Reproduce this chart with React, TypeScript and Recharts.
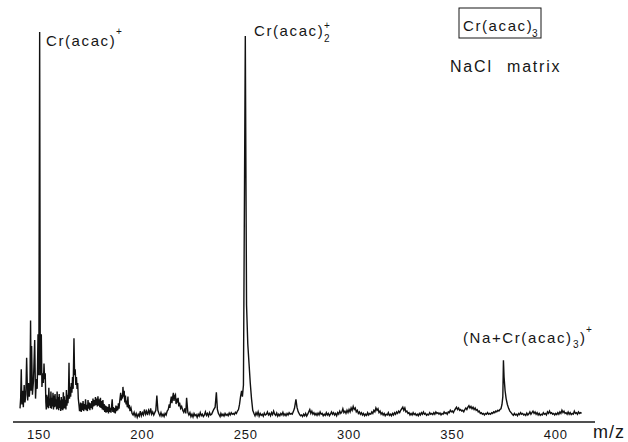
import { LineChart, Line, XAxis, YAxis } from 'recharts';

// m/z vs relative intensity (tallest peak = 100)
const lowMass: [number, number][] = [
  [140.8, 3.5], [141.1, 6.0], [141.4, 13.5], [141.7, 4.5], [142.0, 8.0], [142.4, 3.8], [142.8, 9.5],
  [143.2, 5.0], [143.6, 7.0], [144.0, 16.5], [144.5, 5.5], [144.9, 10.0], [145.3, 6.5], [145.6, 9.0],
  [145.9, 26.0], [146.2, 8.0], [146.4, 19.5], [146.8, 7.0], [147.3, 10.5], [147.9, 21.0], [148.3, 6.0],
  [148.7, 11.0], [149.1, 8.5], [149.5, 22.5], [149.9, 12.0], [150.3, 100], [150.6, 12.0], [151.1, 22.5],
  [151.4, 9.0], [151.8, 12.5], [152.1, 10.0], [152.4, 15.0], [152.7, 11.0], [153.0, 12.5], [153.3, 5.0],
  [153.5, 3.2], [153.75, 7.0], [154.0, 3.8], [154.25, 6.5], [154.5, 3.5], [154.75, 8.8], [155.0, 4.2],
  [155.25, 6.0], [155.5, 3.6], [155.75, 7.8], [156.0, 3.4], [156.25, 6.2], [156.5, 4.0], [156.75, 7.5],
  [157.0, 3.2], [157.25, 6.8], [157.5, 3.8], [157.75, 7.2], [158.0, 4.0], [158.25, 5.8], [158.5, 3.2],
  [158.75, 7.8], [159.0, 3.4], [159.25, 6.4], [159.5, 3.0], [159.75, 7.2], [160.0, 3.6], [160.25, 5.6],
  [160.5, 2.8], [160.75, 6.4], [161.0, 3.2], [161.25, 5.8], [161.5, 3.0], [161.75, 7.6], [162.0, 3.4],
  [162.25, 6.6], [162.5, 3.6], [162.75, 5.6], [163.0, 3.2], [163.25, 8.2], [163.5, 4.2], [163.75, 7.0],
  [164.0, 4.8], [164.25, 7.4], [164.5, 15.2], [164.75, 6.0], [165.0, 9.0], [165.3, 6.5], [165.6, 10.0],
  [165.9, 7.5], [166.2, 11.5], [166.5, 8.5], [166.9, 21.5], [167.2, 12.0], [167.5, 13.5], [167.8, 9.5],
  [168.1, 11.5], [168.4, 8.5], [168.7, 10.0], [169.0, 6.0], [169.3, 4.5],
];

const midMass: [number, number][] = [
  [169.6, 2.8], [169.8, 3.2], [170.1, 5.0], [170.4, 2.6], [170.7, 4.8], [171.0, 3.0], [171.3, 5.4],
  [171.6, 2.8], [171.9, 4.6], [172.2, 3.2], [172.5, 5.8], [172.8, 3.0], [173.1, 4.4], [173.4, 2.8],
  [173.7, 5.6], [174.0, 3.4], [174.3, 5.0], [174.6, 3.0], [174.9, 4.8], [175.2, 3.6], [175.5, 5.4],
  [175.8, 3.2], [176.1, 6.0], [176.4, 4.0], [176.7, 5.6], [177.0, 4.2], [177.3, 6.4], [177.6, 4.4],
  [177.9, 6.0], [178.2, 4.0], [178.5, 6.6], [178.8, 4.2], [179.1, 5.8], [179.4, 3.8], [179.7, 6.2],
  [180.0, 3.6], [180.3, 5.4], [180.6, 3.2], [180.9, 5.6], [181.2, 3.0], [181.5, 4.6], [181.8, 2.6],
  [182.1, 4.2], [182.4, 2.4], [182.7, 4.0], [183.0, 2.6], [183.3, 3.8], [183.6, 2.2], [183.9, 4.6],
  [184.2, 2.6], [184.5, 3.6], [184.8, 2.4], [185.1, 4.0], [185.4, 5.8], [185.7, 2.6], [186.0, 3.8],
  [186.3, 2.4], [186.6, 3.6], [186.9, 2.2], [187.2, 4.2], [187.5, 2.8], [187.8, 4.0], [188.1, 3.0],
  [188.4, 4.8], [188.7, 3.4], [189.0, 5.2], [189.5, 7.5], [189.8, 5.5], [190.1, 7.0], [190.4, 6.0],
  [190.6, 9.0], [190.9, 6.5], [191.2, 8.0], [191.5, 5.0], [191.8, 6.8], [192.1, 4.5], [192.4, 5.5],
  [192.7, 3.8], [193.0, 6.5], [193.3, 3.5], [193.7, 4.4], [194.0, 2.8], [194.5, 3.6], [195.0, 2.2],
  [195.5, 1.8], [196.0, 2.5], [196.5, 1.5], [197.0, 2.2], [197.5, 1.2], [198.0, 2.0], [198.5, 1.5],
  [199.0, 2.8], [199.5, 1.6], [200.0, 2.4], [200.5, 1.8], [201.0, 3.2], [201.5, 2.0], [202.0, 2.8],
  [202.5, 1.8], [203.0, 3.0], [203.5, 2.2], [204.0, 3.5], [204.5, 2.0], [205.0, 2.6], [205.5, 1.8],
  [206.0, 2.4], [206.5, 3.0], [207.0, 6.8], [207.5, 3.0], [208.0, 2.2], [208.5, 1.6], [209.0, 2.4],
  [209.5, 1.5], [210.0, 2.0], [210.5, 1.4], [211.0, 2.2], [211.5, 1.8], [212.0, 2.8], [212.5, 3.2],
  [213.0, 4.5], [213.3, 3.6], [213.6, 5.2], [214.0, 6.5], [214.3, 4.8], [214.6, 6.2], [215.0, 7.5],
  [215.3, 5.4], [215.6, 6.6], [216.0, 7.0], [216.3, 4.6], [216.6, 6.0], [217.0, 5.0], [217.3, 6.2],
  [217.6, 4.0], [218.0, 5.0], [218.5, 3.5], [219.0, 4.0], [219.5, 3.0], [220.0, 2.5], [220.5, 3.5],
  [221.0, 2.2], [221.4, 6.2], [222.0, 2.5], [222.5, 1.8], [223.0, 2.4], [223.5, 1.4], [224.0, 2.0],
  [224.5, 1.3], [225.0, 2.2], [225.5, 1.6], [226.0, 1.9], [226.5, 1.2], [227.0, 2.0], [227.5, 1.5],
  [228.0, 2.4], [228.5, 1.6], [229.0, 2.0], [229.5, 1.4], [230.0, 1.8], [230.5, 2.6], [231.0, 1.7],
  [231.5, 2.2], [232.0, 1.5], [232.5, 2.4], [233.0, 1.8], [233.5, 2.0], [234.0, 2.6], [234.5, 3.2],
  [235.2, 3.8], [235.8, 7.6], [236.3, 3.2], [236.8, 2.2], [237.2, 1.8], [237.6, 1.4], [238.0, 2.2],
  [238.5, 1.6], [239.0, 2.0], [239.5, 1.5], [240.0, 2.2], [240.5, 1.7], [241.0, 2.0], [241.5, 1.6],
  [242.0, 2.3], [242.5, 1.8], [243.0, 2.4], [243.5, 2.0], [244.0, 2.2], [244.5, 1.9], [245.0, 2.5],
  [245.5, 2.2], [246.0, 2.8], [246.5, 3.2], [247.0, 4.5], [247.5, 6.5], [248.0, 8.0], [248.4, 6.5],
  [248.9, 9.5], [249.8, 99.0], [250.4, 30.0], [251.0, 20.0], [251.6, 15.0], [252.2, 10.0], [252.8, 6.0],
  [253.4, 3.0], [254.0, 2.2],
];

const highMass: [number, number][] = [
  [254.5, 1.6], [255.0, 2.4], [255.5, 1.8], [256.0, 2.6], [256.5, 1.5], [257.0, 2.2], [257.5, 1.7],
  [258.0, 2.0], [258.5, 1.5], [259.0, 2.3], [259.5, 1.8], [260.0, 2.0], [260.5, 2.6], [261.0, 1.8],
  [261.5, 2.2], [262.0, 1.6], [262.5, 2.4], [263.0, 1.9], [263.5, 2.8], [264.0, 2.0], [264.5, 1.7],
  [265.0, 2.3], [265.5, 1.5], [266.0, 2.0], [266.5, 1.6], [267.0, 2.2], [267.5, 1.8], [268.0, 2.5],
  [268.5, 1.7], [269.0, 2.1], [269.5, 1.6], [270.0, 2.2], [270.5, 1.8], [271.0, 2.4], [271.5, 2.0],
  [272.0, 2.2], [272.5, 2.0], [273.0, 2.6], [273.6, 3.5], [274.3, 5.8], [274.8, 3.8], [275.4, 2.6],
  [276.0, 2.0], [276.5, 1.6], [277.0, 1.8], [277.5, 1.4], [278.0, 2.0], [278.5, 1.6], [279.0, 2.2],
  [279.5, 1.5], [280.0, 2.0], [280.5, 2.6], [281.0, 3.2], [281.5, 2.2], [282.0, 2.8], [282.5, 2.0],
  [283.0, 2.4], [283.5, 1.8], [284.0, 2.2], [284.5, 1.7], [285.0, 2.3], [285.5, 1.8], [286.0, 2.6],
  [286.5, 2.0], [287.0, 2.2], [287.5, 1.6], [288.0, 2.0], [288.5, 1.7], [289.0, 2.4], [289.5, 1.8],
  [290.0, 2.2], [290.5, 1.6], [291.0, 2.0], [291.5, 2.6], [292.0, 2.0], [292.5, 2.4], [293.0, 1.8],
  [293.5, 2.2], [294.0, 1.6], [294.5, 2.4], [295.0, 2.0], [295.5, 2.8], [296.0, 2.2], [296.5, 2.6],
  [297.0, 3.4], [297.5, 2.4], [298.0, 2.8], [298.5, 2.2], [299.0, 3.0], [299.5, 2.4], [300.0, 3.2],
  [300.5, 2.6], [301.0, 3.6], [301.5, 3.0], [302.0, 4.0], [302.5, 3.2], [303.0, 3.6], [303.5, 2.6],
  [304.0, 3.0], [304.5, 2.2], [305.0, 2.6], [305.5, 2.0], [306.0, 2.4], [306.5, 1.8], [307.0, 2.2],
  [307.5, 1.6], [308.0, 2.0], [308.5, 1.7], [309.0, 2.4], [309.5, 1.8], [310.0, 2.2], [310.5, 2.0],
  [311.0, 2.6], [311.5, 2.2], [312.0, 3.0], [312.5, 2.6], [313.0, 3.6], [313.5, 3.0], [314.0, 3.4],
  [314.5, 2.4], [315.0, 2.8], [315.5, 2.0], [316.0, 2.4], [316.5, 1.8], [317.0, 2.2], [317.5, 1.6],
  [318.0, 2.0], [318.5, 1.8], [319.0, 2.4], [319.5, 1.7], [320.0, 2.0], [320.5, 1.6], [321.0, 2.2],
  [321.5, 1.8], [322.0, 2.4], [322.5, 2.0], [323.0, 2.6], [323.5, 2.2], [324.0, 2.8], [324.5, 2.4],
  [325.0, 3.0], [325.5, 3.4], [326.0, 3.8], [326.5, 3.0], [327.0, 3.6], [327.5, 2.6], [328.0, 2.8],
  [328.5, 2.2], [329.0, 2.4], [329.5, 1.8], [330.0, 2.2],
];

const topMass: [number, number][] = [
  [330.5, 1.8], [331.0, 2.4], [331.5, 1.9], [332.0, 2.2], [332.5, 1.7], [333.0, 2.0], [333.5, 1.6],
  [334.0, 2.2], [334.5, 1.8], [335.0, 2.4], [335.5, 2.0], [336.0, 2.6], [336.5, 2.0], [337.0, 2.2],
  [337.5, 1.7], [338.0, 2.0], [338.5, 1.8], [339.0, 2.4], [339.5, 2.0], [340.0, 2.2], [340.5, 1.9],
  [341.0, 2.4], [341.5, 2.0], [342.0, 2.6], [342.5, 2.2], [343.0, 2.4], [343.5, 2.0], [344.0, 2.3],
  [344.5, 1.8], [345.0, 2.2], [345.5, 2.0], [346.0, 2.6], [346.5, 2.2], [347.0, 2.4], [347.5, 2.0],
  [348.0, 2.6], [348.5, 2.4], [349.0, 3.0], [349.5, 2.6], [350.0, 2.8], [350.5, 2.4], [351.0, 3.0],
  [351.5, 3.4], [352.0, 3.8], [352.5, 3.2], [353.0, 3.6], [353.5, 3.0], [354.0, 3.2], [354.5, 2.8],
  [355.0, 3.0], [355.5, 2.6], [356.0, 3.2], [356.5, 3.6], [357.0, 3.2], [357.5, 3.8], [358.0, 4.2],
  [358.5, 3.6], [359.0, 4.0], [359.5, 3.4], [360.0, 3.8], [360.5, 3.2], [361.0, 3.6], [361.5, 3.0],
  [362.0, 3.2], [362.5, 2.6], [363.0, 2.8], [363.5, 2.2], [364.0, 2.4], [364.5, 2.0], [365.0, 2.2],
  [365.5, 1.8], [366.0, 2.2], [366.5, 2.0], [367.0, 2.4], [367.5, 2.0], [368.0, 2.2], [368.5, 2.0],
  [369.0, 2.4], [369.5, 2.2], [370.0, 2.6], [370.5, 2.4], [371.0, 2.8], [371.5, 2.6], [372.0, 3.0],
  [372.5, 2.8], [373.0, 3.2], [373.5, 3.4], [374.0, 4.5], [374.4, 6.5], [374.7, 15.8], [375.0, 11.5],
  [375.5, 8.0], [376.0, 6.0], [376.6, 4.5], [377.2, 3.5], [377.8, 2.8], [378.4, 2.4], [379.0, 2.0],
  [379.5, 1.7], [380.0, 2.2], [380.5, 1.8], [381.0, 2.0], [381.5, 1.6], [382.0, 2.2], [382.5, 1.9],
  [383.0, 2.4], [383.5, 2.0], [384.0, 2.2], [384.5, 1.8], [385.0, 2.0], [385.5, 1.7], [386.0, 2.3],
  [386.5, 1.8], [387.0, 2.1], [387.5, 2.6], [388.0, 2.0], [388.5, 2.4], [389.0, 2.8], [389.5, 2.2],
  [390.0, 2.6], [390.5, 2.0], [391.0, 2.4], [391.5, 1.8], [392.0, 2.2], [392.5, 1.7], [393.0, 2.0],
  [393.5, 1.8], [394.0, 2.4], [394.5, 2.0], [395.0, 2.2], [395.5, 1.8], [396.0, 2.6], [396.5, 2.2],
  [397.0, 2.8], [397.5, 2.2], [398.0, 2.4], [398.5, 2.0], [399.0, 2.2], [399.5, 1.8], [400.0, 2.2],
  [400.5, 1.9], [401.0, 2.4], [401.5, 2.0], [402.0, 2.6], [402.5, 2.2], [403.0, 3.0], [403.5, 2.4],
  [404.0, 2.8], [404.5, 2.2], [405.0, 2.4], [405.5, 2.0], [406.0, 2.6], [406.5, 2.0], [407.0, 2.4],
  [407.5, 1.9], [408.0, 2.2], [408.5, 2.0], [409.0, 2.8], [409.5, 2.2], [410.0, 2.4], [410.5, 2.0],
  [411.0, 2.6], [411.5, 2.2], [412.0, 2.4], [412.5, 2.2],
];

const xTicks = [150, 200, 250, 300, 350, 400];

const data = [...lowMass, ...midMass, ...highMass, ...topMass].map(([mz, intensity]) => ({ mz, intensity }));

const font = '"Liberation Sans", Arial, sans-serif';
const ink = '#161616';

export default function App() {
  const label = { fontFamily: font, fontSize: 15, fill: ink, letterSpacing: 1.6 };
  const small = { fontFamily: font, fontSize: 10, fill: ink };

  return (
    <div style={{ position: 'absolute', left: 0, top: 0, width: 628, height: 442, background: '#fff' }}>
      <LineChart width={628} height={442} data={data} margin={{ top: 32, right: 33, bottom: 0, left: 13 }}>
        <XAxis
          dataKey="mz"
          type="number"
          domain={[137.4, 419]}
          ticks={xTicks}
          interval={0}
          allowDataOverflow
          height={20}
          axisLine={{ stroke: ink, strokeWidth: 1.3 }}
          tickLine={false}
          tickSize={4}
          tickMargin={4}
          tick={{ fontFamily: font, fontSize: 13, fill: ink, letterSpacing: 0.8 }}
        />
        <YAxis hide type="number" domain={[0, 100]} allowDataOverflow />
        <Line
          type="linear"
          dataKey="intensity"
          stroke="#111"
          strokeWidth={1.4}
          dot={false}
          isAnimationActive={false}
        />

        {/* peak labels */}
        <text x={46} y={46} {...label}>Cr(acac)</text>
        <text x={116} y={35} {...small}>+</text>

        <text x={254} y={36} {...label}>Cr(acac)</text>
        <text x={324} y={42} {...small}>2</text>
        <text x={324} y={29} {...small}>+</text>

        <rect x={459} y={8} width={82} height={30} fill="none" stroke={ink} strokeWidth={1} />
        <text x={463} y={31} {...label}>Cr(acac)</text>
        <text x={532} y={37} {...small}>3</text>

        <text x={450} y={72} {...label} fontSize={16} letterSpacing={1.8}>NaCl</text>
        <text x={507} y={72} {...label} fontSize={16} letterSpacing={1.8}>matrix</text>

        <text x={463} y={343} {...label}>(Na+Cr(acac)</text>
        <text x={573} y={348} {...small}>3</text>
        <text x={580} y={343} {...label}>)</text>
        <text x={586} y={333} {...small}>+</text>

        <text x={593} y={438} fontFamily={font} fontSize={18} fill={ink} letterSpacing={1}>m/z</text>
      </LineChart>
    </div>
  );
}
